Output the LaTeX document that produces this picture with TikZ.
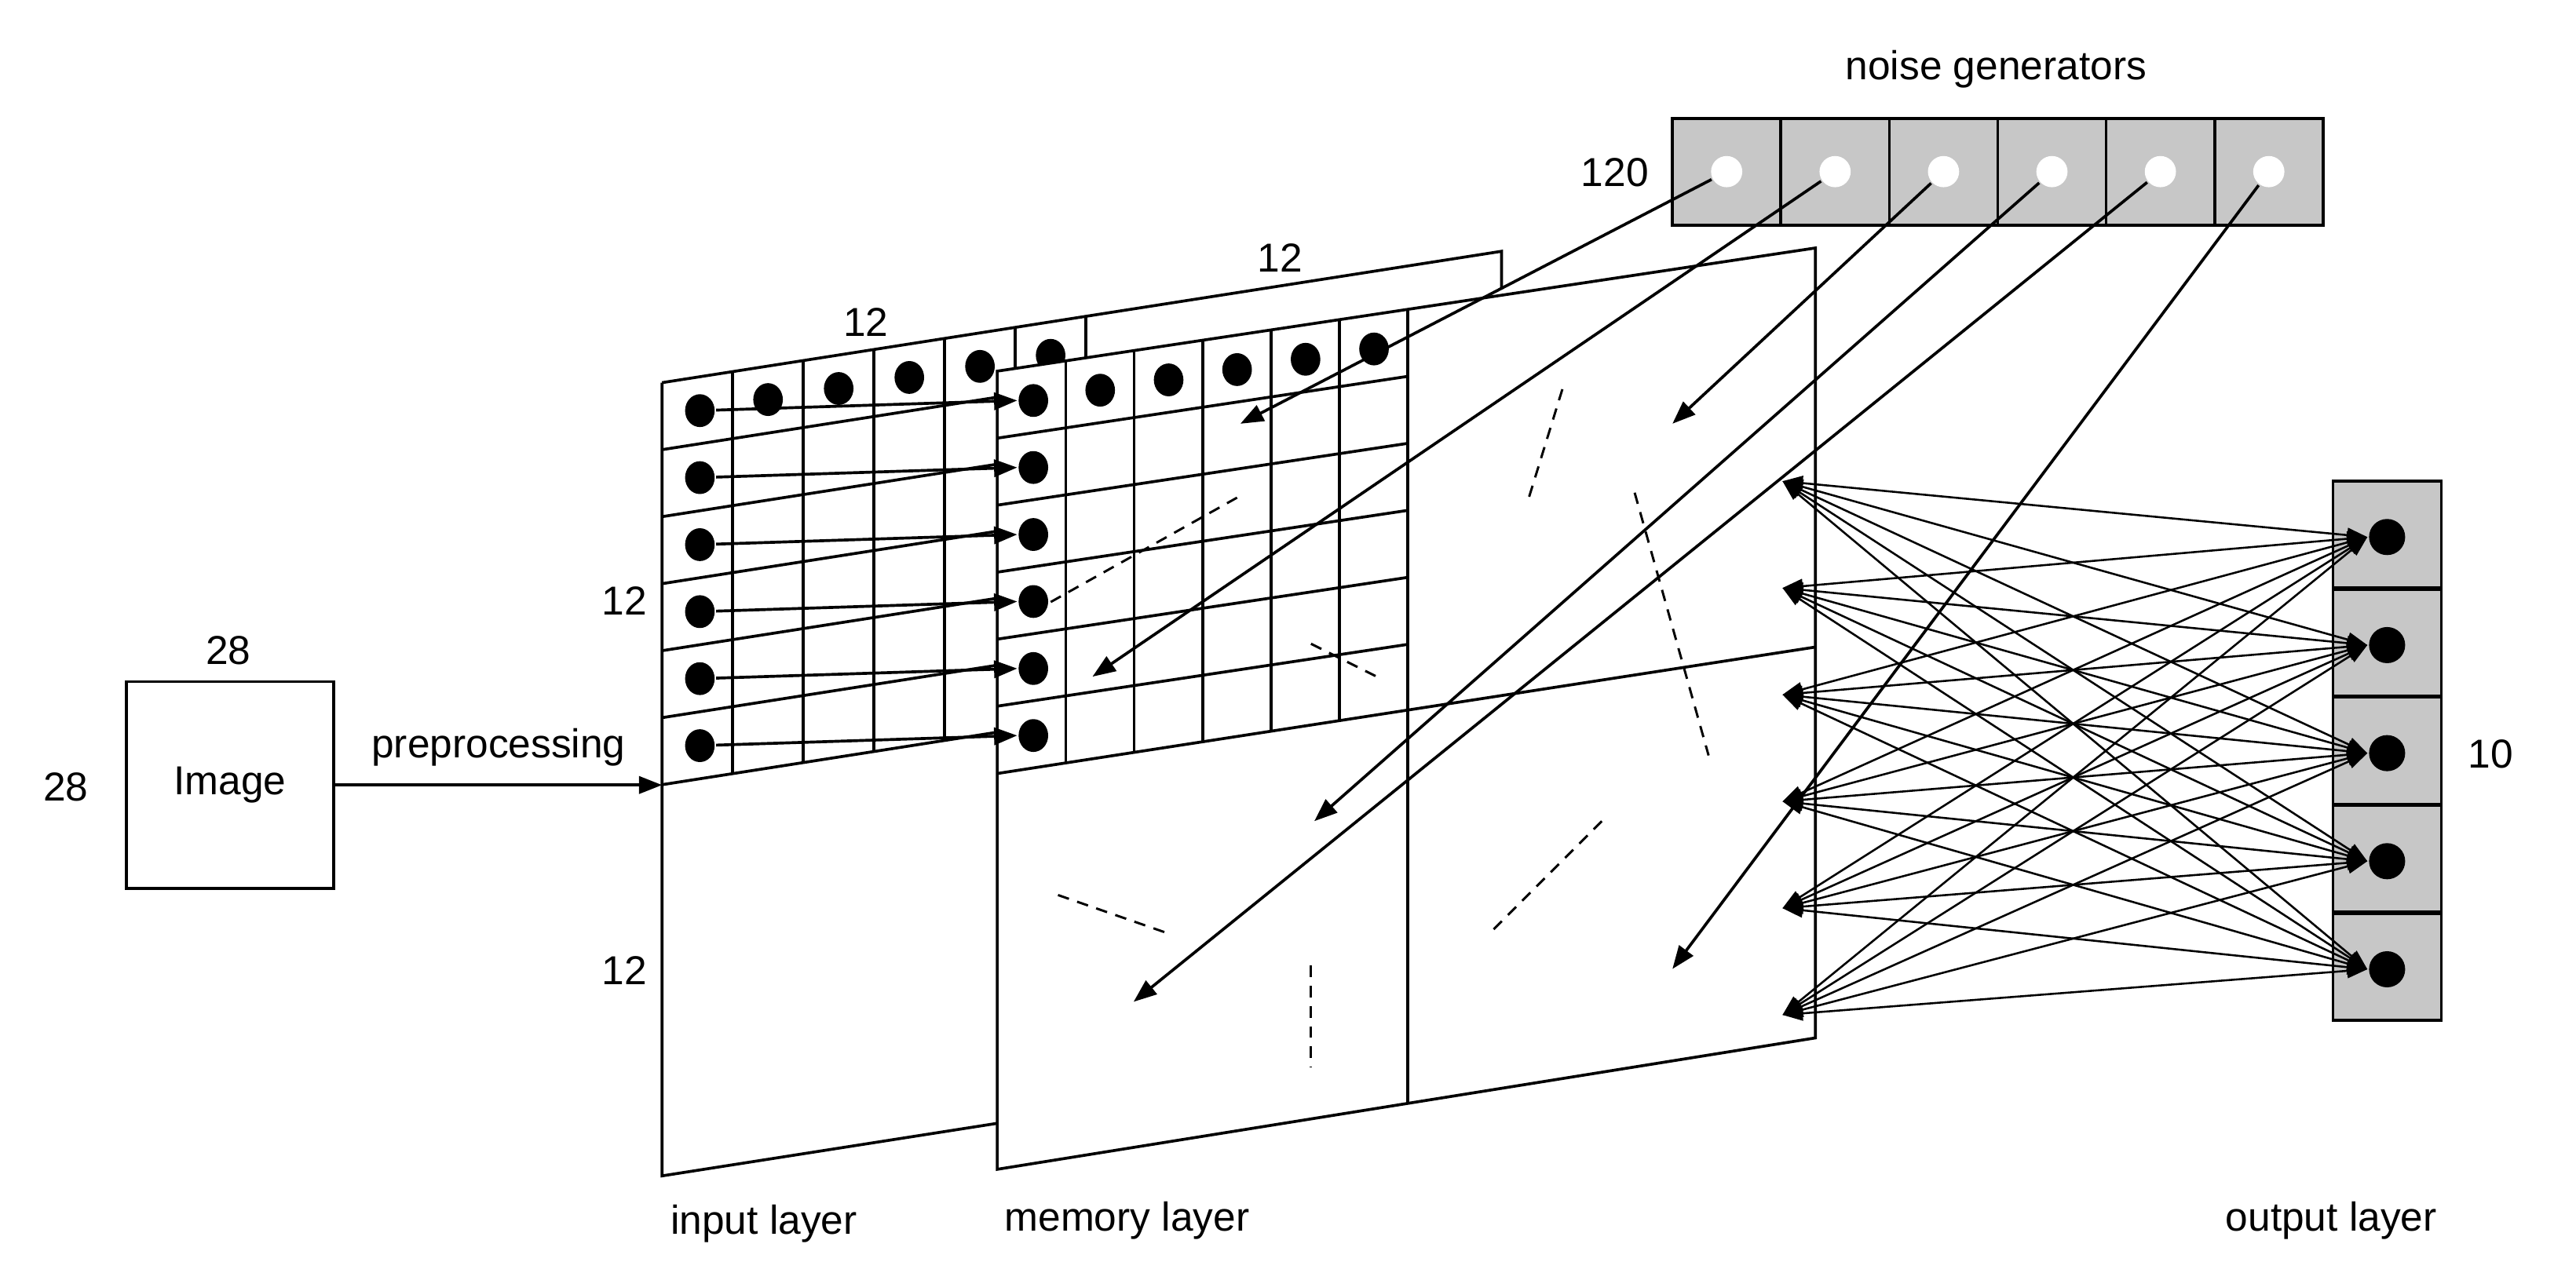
\documentclass[tikz,border=0pt]{standalone}
\usepackage{fontspec}
\setmainfont{Liberation Sans}
\usetikzlibrary{arrows.meta,shapes.geometric}
\begin{document}
\begin{tikzpicture}[x=0.02cm,y=-0.02cm,line width=1pt,
  lbl/.style={font=\fontsize{14}{16}\selectfont,inner sep=0pt},
  dot/.style={ellipse,fill=black,minimum width=18*0.02cm,minimum height=20*0.02cm,inner sep=0pt},
  odot/.style={circle,fill=black,minimum size=22*0.02cm,inner sep=0pt},
  wdot/.style={circle,fill=white,minimum size=19*0.02cm,inner sep=0pt},
  arr/.style={-{Triangle[length=8pt,width=6pt]}},
  fc/.style={{Triangle[length=7pt,width=5pt]}-{Triangle[length=7pt,width=5pt]},line width=0.7pt},
  dsh/.style={dashed,dash pattern=on 4pt off 3pt,line width=0.8pt},
  cell/.style={draw,fill=black!22,minimum width=66*0.02cm,minimum height=65*0.02cm,inner sep=0pt,line width=1pt}]
\useasboundingbox (0,0) rectangle (1568,775);
% image
\node[draw,minimum width=126*0.02cm,minimum height=126*0.02cm,lbl] (img) at (140,478) {Image};
\node[lbl] (t28a) at (139,396) {28};
\node[lbl] (t28b) at (40,479) {28};
\coordinate (inl) at (403,478);
\draw[arr] (img.east) -- node[lbl,above=6pt] {preprocessing} (inl);
% input plane
\def\s{0.1566}
\draw (403,233) -- (914,153) -- (914,176);
\draw (403,233) -- (403,716) -- (607,684);
\foreach \v in {1,...,6}{\draw ({403},{233+40.8*\v}) -- ({661},{233+40.8*\v-\s*258});}
\foreach \u in {1,...,6}{\draw ({403+43*\u},{233-\s*43*\u}) -- ({403+43*\u},{478-\s*43*\u});}
\foreach \v in {0,...,5}{\node[dot] (iv\v) at ({426},{253.4+40.8*\v-\s*21.5}) {};}
\foreach \u in {1,...,5}{\node[dot] (iu\u) at ({424.5+43*\u},{253.4-\s*(21.5+43*\u)}) {};}
\node[lbl] (l12a) at (527,196) {12};
\node[lbl] (l12b) at (779,157) {12};
\node[lbl] (l12c) at (380,366) {12};
\node[lbl] (l12d) at (380,591) {12};
% memory plane
\def\m{0.1506}
\draw[fill=white] (607,226) -- (1105,151) -- (1105,632) -- (607,712) -- cycle;
\draw (857,188) -- (857,672);
\draw (607,471) -- (1105,394);
\foreach \v in {1,...,5}{\draw ({607},{226+40.8*\v}) -- ({857},{226+40.8*\v-\m*250});}
\foreach \u in {1,...,5}{\draw ({607+41.67*\u},{226-\m*41.67*\u}) -- ({607+41.67*\u},{471-\m*41.67*\u});}
\foreach \v in {0,...,5}{\node[dot] (mv\v) at ({629},{247+40.8*\v-\m*20.8}) {};}
\foreach \u in {1,...,5}{\node[dot] (mu\u) at ({628+41.67*\u},{247-\m*(20.8+41.67*\u)}) {};}
\foreach \v in {0,...,5}{\draw[arr] (iv\v) -- (mv\v.west);}
% dashed continuations
\draw[dsh] (753,303) -- (637,368);
\draw[dsh] (798,392) -- (840,413);
\draw[dsh] (951,237) -- (930,305);
\draw[dsh] (995,300) -- (1040,460);
\draw[dsh] (644,545) -- (710,568);
\draw[dsh] (975,500) -- (907,568);
\draw[dsh] (798,588) -- (798,650);
% noise generators
\node[lbl] (ng) at (1215,42) {noise generators};
\node[lbl] (n120) at (983,105) {120};
\foreach \k in {1,...,6}{
  \node[cell] (c\k) at ({985+66*\k},104.5) {};
  \node[wdot] (n\k) at ({985+66*\k},104.5) {};}
\coordinate (e1) at (755,258);
\coordinate (e2) at (665,412);
\coordinate (e3) at (1018,258);
\coordinate (e4) at (800,500);
\coordinate (e5) at (690,610);
\coordinate (e6) at (1018,590);
\foreach \k in {1,...,6}{\draw[arr] (n\k) -- (e\k);}
% output layer
\foreach \j in {1,...,5}{
  \node[cell] (o\j) at ({1453},{325.5+65.8*(\j-1)}) {};
  \node[odot] (od\j) at ({1453},{327+65.8*(\j-1)}) {};
  \coordinate (ot\j) at ({1441},{327+65.8*(\j-1)});}
\foreach \i in {1,...,6}{\coordinate (L\i) at ({1085},{293+65*(\i-1)});}
\foreach \i in {1,...,6}{\foreach \j in {1,...,5}{\draw[fc] (L\i) -- (ot\j);}}
\node[lbl] (t10) at (1516,459) {10};
% layer labels
\node[lbl] (lin) at (465,745) {input layer};
\node[lbl] (lmem) at (686,743) {memory layer};
\node[lbl] (lout) at (1419,743) {output layer};
\end{tikzpicture}
\end{document}
